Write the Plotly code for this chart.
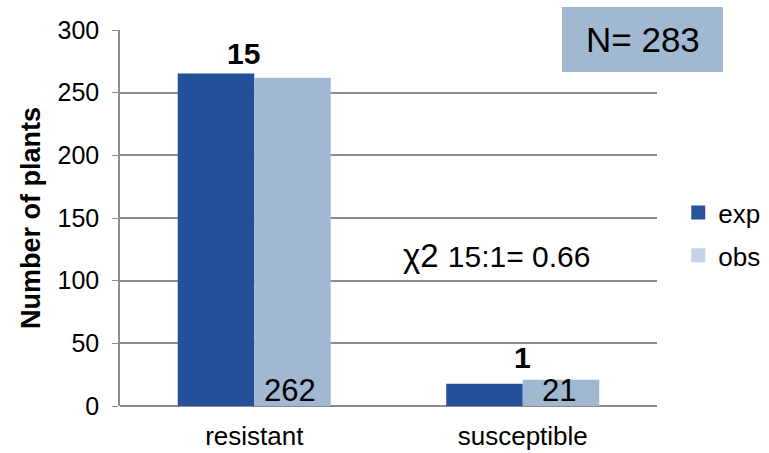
import plotly.graph_objects as go

categories = ["resistant", "susceptible"]
exp_values = [265.3, 17.7]
obs_values = [262, 21]
ratio_labels = ["15", "1"]
obs_labels = ["262", "21"]
y_ticks = [0, 50, 100, 150, 200, 250, 300]
n_total = 283
chi_text = "15:1= 0.66"

EXP_C = "#24509A"
OBS_C = "#A0B8D0"
FONT = "Liberation Sans, Arial, sans-serif"

fig = go.Figure()
fig.add_trace(go.Bar(x=categories, y=exp_values, name="exp", marker_color=EXP_C,
                     marker_line_width=0, showlegend=False))
fig.add_trace(go.Bar(x=categories, y=obs_values, name="obs", marker_color=OBS_C,
                     marker_line_width=0, showlegend=False))
# legend proxies
fig.add_trace(go.Scatter(x=[None], y=[None], mode="markers", name="exp", legendgroup="a",
                         marker=dict(symbol="square", size=14, color="#2A559A")))
fig.add_trace(go.Scatter(x=[None], y=[None], mode="markers", name="obs", legendgroup="b",
                         marker=dict(symbol="square", size=14, color="#C5D2E5")))

# ratio labels above exp bars
fig.add_annotation(x=categories[0], y=281, text="<b>%s</b>" % ratio_labels[0], showarrow=False,
                   xshift=-11, font=dict(size=30, color="black", family=FONT))
fig.add_annotation(x=categories[1], y=39, text="<b>%s</b>" % ratio_labels[1], showarrow=False,
                   xshift=0, font=dict(size=30, color="black", family=FONT))
# observed counts inside obs bars
for c, t in zip(categories, obs_labels):
    fig.add_annotation(x=c, y=12, text=t, showarrow=False, xshift=36,
                       font=dict(size=31, color="black", family=FONT))

# N box
fig.add_shape(type="rect", xref="paper", yref="paper", x0=0.823, x1=1.123, y0=0.888, y1=1.061,
              fillcolor=OBS_C, line_width=0, layer="above")
fig.add_annotation(xref="paper", yref="paper", x=0.973, y=0.974, xanchor="center",
                   yanchor="middle", text="N= %d" % n_total,
                   showarrow=False, font=dict(size=35, color="black", family=FONT))
# chi-square text
fig.add_annotation(xref="paper", yref="paper", x=0.524, y=0.40, xanchor="left",
                   yanchor="middle",
                   text="χ2 <span style='font-size:30px'>%s</span>" % chi_text,
                   showarrow=False, font=dict(size=33, color="black", family=FONT))

fig.update_layout(
    width=769, height=453,
    margin=dict(l=120, r=112, t=30, b=47, autoexpand=False),
    paper_bgcolor="white", plot_bgcolor="white",
    barmode="group", bargap=0.43, bargroupgap=0,
    font=dict(family=FONT, size=25, color="black"),
    legend=dict(xref="container", x=0.882, y=0.457, xanchor="left", yanchor="middle",
                font=dict(size=26), tracegroupgap=6, traceorder="grouped",
                bgcolor="rgba(0,0,0,0)", itemsizing="trace"),
    xaxis=dict(showline=False, ticks="", tickfont=dict(size=26), showgrid=False,
               ticklabelstandoff=12),
    yaxis=dict(range=[0, 300], tickvals=y_ticks, showgrid=True, gridcolor="#8C8C8C",
               gridwidth=1.5, zeroline=True, zerolinecolor="#8C8C8C", zerolinewidth=1.5,
               showline=True, linecolor="#8C8C8C", linewidth=1.5, ticks="outside",
               ticklen=6, tickcolor="#8C8C8C", tickfont=dict(size=25),
               ticklabelstandoff=8, automargin=False,
               title=dict(text="<b>Number of plants</b>", font=dict(size=27), standoff=9)),
)

fig.write_html("out.html", config={"displayModeBar": False},
               post_script="document.body.style.margin='0';")
